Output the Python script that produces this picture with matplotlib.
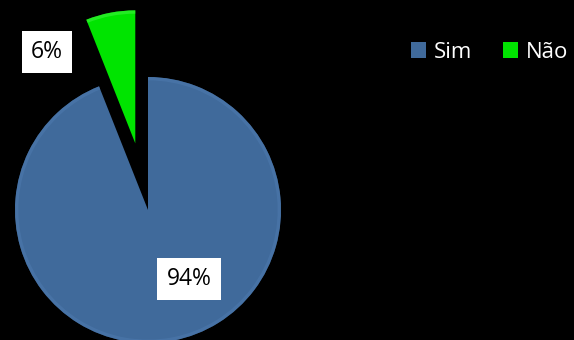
import matplotlib
matplotlib.use("Agg")
import matplotlib.pyplot as plt

categories = ["Sim", "Não"]
values = [94, 6]
pct_labels = ["94%", "6%"]
colors = ["#406A9B", "#00E400"]

W, H = 574, 340
fig = plt.figure(figsize=(W / 100, H / 100), dpi=100, facecolor="black")
# pie center at (148, 210) px, radius 133 px
cx, cy, r = 148, 210, 133
ax = fig.add_axes([(cx - r) / W, 1 - (cy + r) / H, 2 * r / W, 2 * r / H])
ax.set_facecolor("black")
ax.axis("off")

wedges, _ = ax.pie(values, colors=colors, startangle=90, counterclock=False,
                   explode=[0, 0.51], radius=1,
                   wedgeprops=dict(edgecolor="none"))
for w in wedges:
    w.set_clip_on(False)
# subtle rim shading
rims = ax.pie(values, colors=["#4C79AD", "#3CF03C"], startangle=90, counterclock=False,
              explode=[0, 0.51], radius=1,
              wedgeprops=dict(width=0.025, edgecolor="none", alpha=0.6))[0]
for w in rims:
    w.set_clip_on(False)
ax.set_xlim(-1, 1)
ax.set_ylim(-1, 1)
ax.set_aspect("equal")

font = "Open Sans"
label_pos = [(189, 279), (47, 52)]
for txt, (px, py) in zip(pct_labels, label_pos):
    fig.text(px / W, 1 - py / H, txt, ha="center", va="center",
             fontsize=16.5, family=font, color="black",
             bbox=dict(boxstyle="square,pad=0.4", fc="white", ec="none"))

leg = fig.legend(wedges, categories, loc="center left",
                 bbox_to_anchor=(402 / W, 1 - 52 / H), ncol=2,
                 frameon=False, labelcolor="white",
                 prop=dict(family=font, size=16),
                 handlelength=0.7, handleheight=0.7, handletextpad=0.35,
                 columnspacing=1.35, borderaxespad=0)

fig.savefig("out.png", dpi=100, facecolor="black")
